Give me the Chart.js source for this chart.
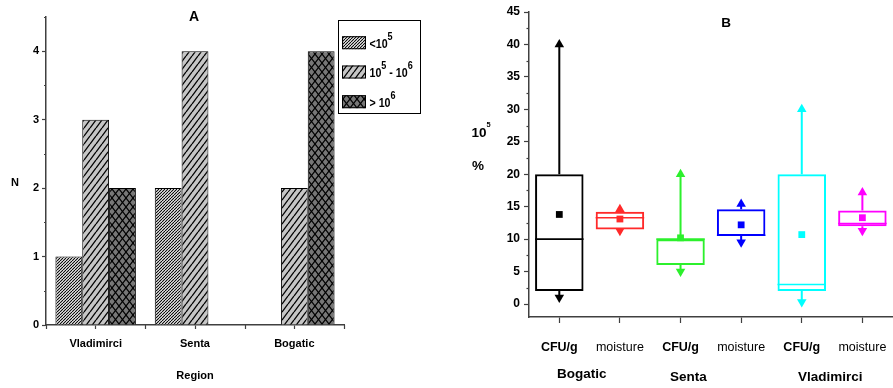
<!DOCTYPE html>
<html>
<head>
<meta charset="utf-8">
<script src="https://cdn.jsdelivr.net/npm/chart.js@4.4.1/dist/chart.umd.min.js"></script>
<style>
  html, body { margin: 0; padding: 0; background: #fff; overflow: hidden; width: 893px; height: 388px; }
  #wrapA { position: absolute; left: 0; top: 0; width: 440px; height: 388px; }
  #wrapB { position: absolute; left: 440px; top: 0; width: 500px; height: 388px; }
</style>
</head>
<body>
<div id="wrapA"><canvas id="chartA" width="440" height="388"></canvas></div>
<div id="wrapB"><canvas id="chartB" width="500" height="388"></canvas></div>
<script>
// ---- Panel A: number of samples in each contamination class, per region ----
const regions = ['Vladimirci', 'Senta', 'Bogatic'];
const classLabels = ['<10^5', '10^5 - 10^6', '> 10^6'];
const countLow = [1, 2, 0];
const countMid = [3, 4, 2];
const countHigh = [2, 0, 4];

// ---- Panel B: CFU/g (x10^5) and moisture (%) per region ----
const boxPositions = [1, 2, 3, 4, 5, 6];
const boxLabels = ['CFU/g', 'moisture', 'CFU/g', 'moisture', 'CFU/g', 'moisture'];
const groupNames = ['Bogatic', 'Senta', 'Vladimirci'];
const boxQ1 = [2, 11.5, 6, 10.5, 2, 12.0];
const boxQ3 = [20, 14.2, 10, 14.6, 20, 14.4];
const boxMedian = [10, 13.3, 10, 10.6, 3, 12.4];
const boxMean = [13.8, 13.1, 10.2, 12.2, 10.7, 13.3];
const boxMax = [40, 14.6, 20, 15.4, 30, 17.2];
const boxMin = [1, 11.3, 5, 9.5, 0.3, 11.3];

const boxColors = ['#000000', '#ff2a2a', '#2cf02c', '#0000ff', '#00ffff', '#ff00ff'];
const BOX_HALF = 0.4;            // half box width, in x-axis units
const AXIS_COLOR = '#404040';

const FONT = "'Liberation Sans', Arial, Helvetica, sans-serif";
Chart.defaults.font.family = FONT;
Chart.defaults.color = '#000';

// hatch fills for the bar classes
function hatch(bg, w, h, lineW, cross) {
  const c = document.createElement('canvas');
  c.width = w; c.height = h;
  const g = c.getContext('2d');
  g.fillStyle = bg; g.fillRect(0, 0, w, h);
  g.strokeStyle = '#000'; g.lineWidth = lineW;
  const seg = (x0, y0, x1, y1) => {
    for (const dx of [-w, 0, w]) {
      g.beginPath(); g.moveTo(x0 + dx, y0); g.lineTo(x1 + dx, y1); g.stroke();
    }
  };
  seg(0, h, w, 0);
  if (cross) seg(0, 0, w, h);
  return g.createPattern(c, 'repeat');
}
const classFills = [
  hatch('#ffffff', 3, 3, 1.1, false),
  hatch('#c6c6c6', 6, 8, 1.3, false),
  hatch('#777777', 7, 9, 1.2, true)
];

// text with "^n" written as a raised, smaller number; squeeze < 1 narrows it
function drawRich(ctx, text, x, y, size, weight, align, supScale, raise, squeeze) {
  squeeze = squeeze || 1;
  const parts = [];
  const re = /\^(\d+)/g;
  let last = 0, m;
  while ((m = re.exec(text))) {
    if (m.index > last) parts.push({ t: text.slice(last, m.index), sup: false });
    parts.push({ t: m[1], sup: true });
    last = re.lastIndex;
  }
  if (last < text.length) parts.push({ t: text.slice(last), sup: false });
  let total = 0;
  parts.forEach(p => {
    p.size = p.sup ? size * supScale : size;
    ctx.font = `${weight} ${p.size}px ${FONT}`;
    p.w = ctx.measureText(p.t).width;
    total += p.w;
  });
  const start = align === 'center' ? x - total * squeeze / 2 : (align === 'right' ? x - total * squeeze : x);
  ctx.save();
  ctx.translate(start, y);
  ctx.scale(squeeze, 1);
  ctx.textAlign = 'left';
  ctx.textBaseline = 'alphabetic';
  let cx = 0;
  parts.forEach(p => {
    ctx.font = `${weight} ${p.size}px ${FONT}`;
    ctx.fillText(p.t, cx, p.sup ? -size * raise : 0);
    cx += p.w;
  });
  ctx.restore();
}

// short unlabeled ticks between the labeled ones
const minorTicks = {
  id: 'minorTicks',
  afterDraw(chart, args, opts) {
    const ctx = chart.ctx;
    ctx.save();
    ctx.strokeStyle = AXIS_COLOR;
    ctx.lineWidth = 1.2;
    (opts.list || []).forEach(spec => {
      const s = chart.scales[spec.scale];
      spec.values.forEach(v => {
        const p = Math.round(s.getPixelForValue(v)) + 0.5;
        ctx.beginPath();
        if (s.isHorizontal()) { ctx.moveTo(p, s.top); ctx.lineTo(p, s.top + spec.len); }
        else { ctx.moveTo(s.right, p); ctx.lineTo(s.right - spec.len, p); }
        ctx.stroke();
      });
    });
    ctx.restore();
  }
};

// free-standing captions (titles, axis names)
const captions = {
  id: 'captions',
  afterDraw(chart, args, opts) {
    const ctx = chart.ctx;
    ctx.save();
    ctx.fillStyle = '#000';
    (opts.items || []).forEach(it => {
      let x = it.x;
      if (it.axisValue !== undefined) x = chart.scales.x.getPixelForValue(it.axisValue);
      drawRich(ctx, it.text, x, it.y + it.size * 0.36, it.size, it.weight || 'bold',
        it.align || 'center', it.supScale || 0.6, it.raise || 0.7, 1);
    });
    ctx.restore();
  }
};

// boxed legend with hatch swatches
const hatchLegend = {
  id: 'hatchLegend',
  afterDraw(chart, args, opts) {
    const ctx = chart.ctx;
    const b = opts.box;
    ctx.save();
    ctx.strokeStyle = '#000';
    ctx.lineWidth = 1;
    ctx.strokeRect(b.x + 0.5, b.y + 0.5, b.w, b.h);
    chart.data.datasets.forEach((ds, i) => {
      const cy = opts.rows[i];
      ctx.fillStyle = ds.backgroundColor;
      ctx.fillRect(b.x + 4, cy - 6.5, 24, 13);
      ctx.strokeRect(b.x + 4.5, cy - 6, 23, 12);
      ctx.fillStyle = '#000';
      drawRich(ctx, ds.label, b.x + 31.5, cy + 5, 13, 'bold', 'left', 0.85, 0.6, 0.82);
    });
    ctx.restore();
  }
};

// ---------------- Panel A ----------------
new Chart(document.getElementById('chartA'), {
  type: 'bar',
  data: {
    labels: regions,
    datasets: [countLow, countMid, countHigh].map((vals, i) => ({
      label: classLabels[i],
      data: vals,
      backgroundColor: classFills[i],
      borderColor: '#000',
      borderWidth: 1,
      categoryPercentage: 0.81,
      barPercentage: 1.0
    }))
  },
  options: {
    responsive: false,
    animation: false,
    events: [],
    layout: { padding: { left: 0, top: 17, right: 96, bottom: 0 } },
    plugins: {
      legend: { display: false },
      tooltip: { enabled: false },
      minorTicks: {
        list: [
          { scale: 'y', values: [0.5, 1.5, 2.5, 3.5, 4.5], len: 2 },
          { scale: 'x', values: [-0.5, 0.5, 1.5, 2.5], len: 4 }
        ]
      },
      captions: {
        items: [
          { text: 'A', x: 194, y: 16, size: 14 },
          { text: 'N', x: 15, y: 182, size: 11 },
          { text: 'Region', x: 195, y: 375, size: 11 }
        ]
      },
      hatchLegend: { box: { x: 338, y: 20, w: 82, h: 93 }, rows: [42.7, 72, 101.7] }
    },
    scales: {
      x: {
        afterFit: s => { s.height = 63; },
        grid: { drawOnChartArea: false, offset: false, tickLength: 4, color: AXIS_COLOR, tickWidth: 1.2 },
        border: { color: AXIS_COLOR, width: 1.5 },
        ticks: { font: { size: 11, weight: 'bold' }, padding: 8, color: '#000' }
      },
      y: {
        min: 0, max: 4.5,
        afterFit: s => { s.width = 46; },
        grid: { drawOnChartArea: false, tickLength: 4, color: AXIS_COLOR, tickWidth: 1.2 },
        border: { color: AXIS_COLOR, width: 1.5 },
        ticks: { stepSize: 1, includeBounds: false, font: { size: 11, weight: 'bold' }, padding: 3, color: '#000' }
      }
    }
  },
  plugins: [minorTicks, captions, hatchLegend]
});

// ---------------- Panel B ----------------
const markerSets = [
  { values: boxMax, style: 'triangle', rot: 0, r: 5.5 },
  { values: boxMin, style: 'triangle', rot: 180, r: 5.5 },
  { values: boxMean, style: 'rect', rot: 0, r: 4.8 }
].map(m => ({
  type: 'line',
  data: boxPositions.map((x, i) => ({ x, y: m.values[i] })),
  showLine: false,
  pointStyle: m.style,
  pointRotation: m.rot,
  pointRadius: m.r,
  pointBackgroundColor: boxColors,
  pointBorderColor: boxColors,
  pointBorderWidth: 0
}));

const medianSets = boxPositions.map((x, i) => ({
  type: 'line',
  data: [{ x: x - BOX_HALF, y: boxMedian[i] }, { x: x + BOX_HALF, y: boxMedian[i] }],
  borderColor: boxColors[i],
  borderWidth: 1.6,
  pointRadius: 0
}));

const whiskerSets = boxPositions.map((x, i) => ({
  type: 'line',
  data: [
    { x, y: boxQ3[i] }, { x, y: boxMax[i] }, { x, y: null },
    { x, y: boxQ1[i] }, { x, y: boxMin[i] }
  ],
  borderColor: boxColors[i],
  borderWidth: 2,
  pointRadius: 0,
  spanGaps: false
}));

const boxSet = {
  type: 'bar',
  data: boxPositions.map((x, i) => ({ x, y: [boxQ1[i], boxQ3[i]] })),
  backgroundColor: 'rgba(0,0,0,0)',
  borderColor: boxColors,
  borderWidth: 2,
  borderSkipped: false,
  categoryPercentage: BOX_HALF * 2,
  barPercentage: 1.0
};

new Chart(document.getElementById('chartB'), {
  type: 'bar',
  data: { datasets: [...markerSets, ...medianSets, ...whiskerSets, boxSet] },
  options: {
    responsive: false,
    animation: false,
    events: [],
    layout: { padding: { left: 0, top: 12, right: 8, bottom: 0 } },
    plugins: {
      legend: { display: false },
      tooltip: { enabled: false },
      minorTicks: {
        list: [{ scale: 'y', values: [2.5, 7.5, 12.5, 17.5, 22.5, 27.5, 32.5, 37.5, 42.5], len: 2.5 }]
      },
      captions: {
        items: [
          { text: 'B', x: 286, y: 22, size: 13.5 },
          { text: '10^5', x: 31.5, y: 132, size: 13.5, align: 'left', supScale: 0.55, raise: 0.72 },
          { text: '%', x: 38, y: 165, size: 13.5 },
          { text: groupNames[0], axisValue: 1.37, y: 373, size: 13.5 },
          { text: groupNames[1], axisValue: 3.13, y: 376, size: 13.5 },
          { text: groupNames[2], axisValue: 5.47, y: 376, size: 13.5 }
        ]
      }
    },
    scales: {
      x: {
        type: 'linear',
        min: 0.5, max: 7,
        offset: false,
        afterFit: s => { s.height = 71; },
        grid: { drawOnChartArea: false, offset: false, tickLength: 6, color: AXIS_COLOR, tickWidth: 1.2 },
        border: { color: AXIS_COLOR, width: 1.5 },
        ticks: {
          stepSize: 1,
          includeBounds: false,
          autoSkip: false,
          maxRotation: 0,
          padding: 17,
          color: '#000',
          font: ctx => ({ size: 12.5, weight: (ctx.tick && ctx.tick.value % 2 === 1) ? 'bold' : 'normal' }),
          callback: v => boxLabels[v - 1] || ''
        }
      },
      y: {
        min: -2, max: 45,
        afterFit: s => { s.width = 89; },
        grid: { drawOnChartArea: false, tickLength: 5, color: AXIS_COLOR, tickWidth: 1.2 },
        border: { color: AXIS_COLOR, width: 1.5 },
        ticks: { stepSize: 5, includeBounds: false, font: { size: 12, weight: 'bold' }, padding: 4, color: '#000' }
      }
    }
  },
  plugins: [minorTicks, captions]
});
</script>
</body>
</html>
